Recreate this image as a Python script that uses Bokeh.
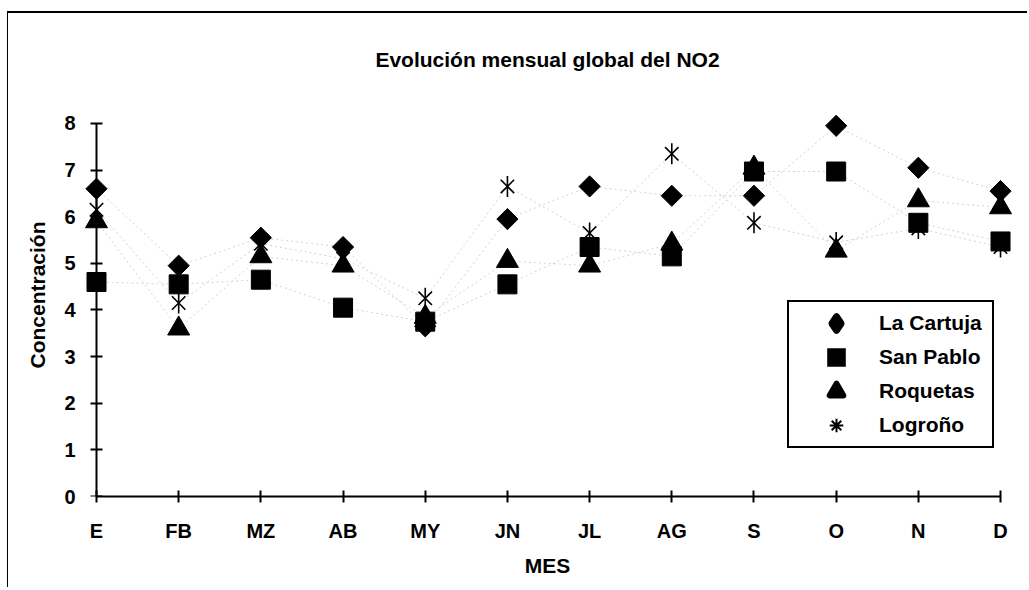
import math
from bokeh.plotting import figure
from bokeh.models import FixedTicker, Legend, LegendItem, Range1d, LinearAxis
from bokeh.embed import file_html
from bokeh.resources import INLINE

months = ["E", "FB", "MZ", "AB", "MY", "JN", "JL", "AG", "S", "O", "N", "D"]
la_cartuja = [6.6, 4.95, 5.55, 5.35, 3.65, 5.95, 6.65, 6.45, 6.45, 7.95, 7.05, 6.55]
san_pablo = [4.6, 4.55, 4.65, 4.05, 3.75, 4.55, 5.35, 5.15, 6.97, 6.97, 5.87, 5.47]
roquetas = [5.9, 3.6, 5.15, 4.95, 3.85, 5.05, 4.95, 5.42, 7.05, 5.27, 6.35, 6.2]
logrono = [6.15, 4.15, 5.42, 5.1, 4.25, 6.65, 5.65, 7.35, 5.87, 5.45, 5.75, 5.35]
y_ticks = [0, 1, 2, 3, 4, 5, 6, 7, 8]

x_idx = list(range(len(months)))
FONT = "Liberation Sans"

p = figure(width=1020, height=576, output_backend="svg", toolbar_location=None,
           x_range=Range1d(-0.1947, 11.170), y_range=Range1d(0, 8.643),
           min_border_left=72, min_border_right=14, min_border_top=80,
           min_border_bottom=93)
p.styles = {"margin-left": "7px", "margin-top": "11px",
            "border-left": "1px solid #000", "border-top": "2px solid #000"}
p.outline_line_color = None
p.xgrid.visible = False
p.ygrid.visible = False
p.background_fill_color = "white"
p.border_fill_color = "white"

p.title.text = "Evolución mensual global del NO2"
p.title.align = "center"
p.title.text_font = FONT
p.title.text_font_size = "21px"
p.title.text_font_style = "bold"
p.title.text_color = "black"
p.title.standoff = 45

xa = p.xaxis[0]
xa.ticker = FixedTicker(ticks=x_idx)
xa.major_label_overrides = {i: m for i, m in enumerate(months)}
xa.bounds = (0, len(months) - 1)

# y axis labels (left panel), no line / ticks
ya = p.yaxis[0]
ya.ticker = FixedTicker(ticks=y_ticks)
ya.axis_line_color = None
ya.major_tick_line_color = None
ya.major_tick_in = 0
ya.major_tick_out = 0

# y axis line + ticks placed at x = 0 (the E category)
ya_line = LinearAxis(ticker=FixedTicker(ticks=y_ticks), fixed_location=0,
                     bounds=(0, 8),
                     major_label_overrides={t: "" for t in y_ticks},
                     major_label_standoff=0)
p.add_layout(ya_line, "right")

for ax in (xa, ya, ya_line):
    ax.minor_tick_line_color = None
    ax.major_label_text_font = FONT
    ax.major_label_text_font_size = "20px"
    ax.major_label_text_font_style = "bold"
    ax.major_label_text_color = "black"
    ax.axis_label_text_font = FONT
    ax.axis_label_text_font_size = "21px"
    ax.axis_label_text_font_style = "bold"
    ax.axis_label_text_color = "black"
for ax in (xa, ya_line):
    ax.axis_line_width = 2
    ax.axis_line_color = "black"
    ax.major_tick_line_width = 2
    ax.major_tick_line_color = "black"
    ax.major_tick_in = 6
    ax.major_tick_out = 6

xa.axis_label = "MES"
xa.major_label_standoff = 17
xa.axis_label_standoff = 9
ya.axis_label = "Concentración"
ya.major_label_standoff = 5
ya.axis_label_standoff = 12

line_kw = dict(line_color="#d2d2d2", line_dash="2 3", line_width=1)
for series in (la_cartuja, san_pablo, roquetas, logrono):
    p.line(x_idx, series, **line_kw)

r_lc = p.scatter(x_idx, la_cartuja, marker="square", size=15, angle=math.pi / 4,
                 fill_color="black", line_color="black", line_width=1)
r_rq = p.scatter(x_idx, roquetas, marker="triangle", size=22,
                 fill_color="black", line_color="black", line_width=1)
r_lg1 = p.scatter(x_idx, logrono, marker="x", size=19,
                  line_color="black", line_width=1.6)
r_lg2 = p.scatter(x_idx, logrono, marker="dash", size=21, angle=math.pi / 2,
                  line_color="black", line_width=1.6)
r_sp = p.scatter(x_idx, san_pablo, marker="square", size=19,
                 fill_color="black", line_color="black", line_width=1)

# legend-only renderers (same data, hidden in the plot) so the key glyphs
# keep their shapes at legend scale
k_lc = p.scatter(x_idx, la_cartuja, marker="diamond", size=15, fill_color="black",
                 line_color="black", line_width=7, line_join="round", visible=False)
k_sp = p.scatter(x_idx, san_pablo, marker="square", size=15, fill_color="black",
                 line_color="black", line_width=5, line_join="miter", visible=False)
k_rq = p.scatter(x_idx, roquetas, marker="triangle", size=15, fill_color="black",
                 line_color="black", line_width=6, line_join="round", visible=False)
k_lg = p.scatter(x_idx, logrono, marker="asterisk", size=15,
                 line_color="black", line_width=2, visible=False)

legend = Legend(items=[
    LegendItem(label="La Cartuja", renderers=[k_lc]),
    LegendItem(label="San Pablo", renderers=[k_sp]),
    LegendItem(label="Roquetas", renderers=[k_rq]),
    LegendItem(label="Logroño", renderers=[k_lg]),
], location=(707, 48), margin=0, padding=4, spacing=0,
    glyph_height=34, glyph_width=86, label_standoff=0, label_width=109,
    border_line_color="black", border_line_width=2, border_line_alpha=1,
    background_fill_color="white", background_fill_alpha=1,
    label_text_font=FONT, label_text_font_size="21px",
    label_text_font_style="bold", label_text_color="black")
p.add_layout(legend)

open("out.html", "w").write(file_html(p, INLINE))
